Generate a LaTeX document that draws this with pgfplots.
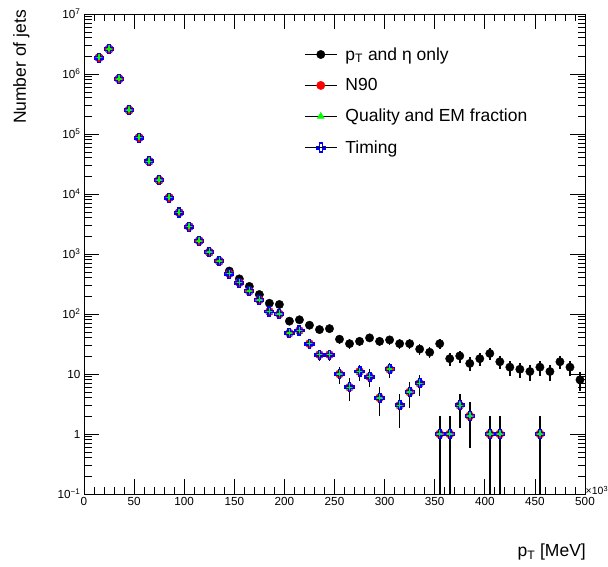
\documentclass[border=0pt]{standalone}
\usepackage{fontspec}
\setmainfont{Liberation Sans}
\usepackage{pgfplots}
\pgfplotsset{compat=1.18}
\usepackage{pgfplotstable}

\newcommand\fs{\fontsize{17.5}{20}\selectfont}
\newcommand\tfs{\fontsize{11.7}{14}\selectfont}

\pgfdeclareplotmark{opencross}{%
  \pgfpathmoveto{\pgfqpoint{-0.3\pgfplotmarksize}{\pgfplotmarksize}}%
  \pgfpathlineto{\pgfqpoint{0.3\pgfplotmarksize}{\pgfplotmarksize}}%
  \pgfpathlineto{\pgfqpoint{0.3\pgfplotmarksize}{0.3\pgfplotmarksize}}%
  \pgfpathlineto{\pgfqpoint{\pgfplotmarksize}{0.3\pgfplotmarksize}}%
  \pgfpathlineto{\pgfqpoint{\pgfplotmarksize}{-0.3\pgfplotmarksize}}%
  \pgfpathlineto{\pgfqpoint{0.3\pgfplotmarksize}{-0.3\pgfplotmarksize}}%
  \pgfpathlineto{\pgfqpoint{0.3\pgfplotmarksize}{-\pgfplotmarksize}}%
  \pgfpathlineto{\pgfqpoint{-0.3\pgfplotmarksize}{-\pgfplotmarksize}}%
  \pgfpathlineto{\pgfqpoint{-0.3\pgfplotmarksize}{-0.3\pgfplotmarksize}}%
  \pgfpathlineto{\pgfqpoint{-\pgfplotmarksize}{-0.3\pgfplotmarksize}}%
  \pgfpathlineto{\pgfqpoint{-\pgfplotmarksize}{0.3\pgfplotmarksize}}%
  \pgfpathlineto{\pgfqpoint{-0.3\pgfplotmarksize}{0.3\pgfplotmarksize}}%
  \pgfpathclose
  \pgfusepathqstroke
}

\pgfplotstableread{
x y e
15 1870000 1367
25 2600000 1612
35 830000 911
45 250000 500
55 87000 295
65 35000 187
75 17000 130
85 8700 93
95 4900 70
105 2860 53
115 1660 41
125 1070 33
135 760 28
145 520 23
155 385 20
165 288 17
175 211 14.5
185 151 12.3
195 144 12
205 76 8.7
215 80 8.9
225 65 8.1
235 55 7.4
245 57 7.5
255 38 6.2
265 32 5.7
275 35 5.9
285 40 6.3
295 35 5.9
305 37 6.1
315 32 5.7
325 32 5.7
335 26 5.1
345 23 4.8
355 32 5.7
365 18 4.2
375 20 4.5
385 15 3.9
395 18 4.2
405 22 4.7
415 16 4
425 13 3.6
435 12 3.5
445 11 3.3
455 13 3.6
465 11 3.3
475 16 4
485 13 3.6
495 8 2.8
}\ptonly

\pgfplotstableread{
x y ep em
15 1870000 1367 1367
25 2600000 1612 1612
35 830000 911 911
45 250000 500 500
55 87000 295 295
65 35000 187 187
75 17000 130 130
85 8700 93 93
95 4900 70 70
105 2860 53 53
115 1660 41 41
125 1070 33 33
135 760 28 28
145 470 22 22
155 333 18 18
165 240 15.5 15.5
175 172 13.1 13.1
185 110 10.5 10.5
195 100 10 10
205 48 6.9 6.9
215 53 7.3 7.3
225 32 5.7 5.7
235 21 4.6 4.6
245 21 4.6 4.6
255 10 3.2 3.2
265 6 2.45 2.45
275 11 3.3 3.3
285 9 3 3
295 4 2 2
305 12 3.5 3.5
315 3 1.73 1.73
325 5 2.24 2.24
335 7 2.65 2.65
355 1 1 0.999
365 1 1 0.999
375 3 1.73 1.73
385 2 1.41 1.41
405 1 1 0.999
415 1 1 0.999
455 1 1 0.999
}\cuts

\begin{document}
\begin{tikzpicture}[x=1pt,y=1pt]
\begin{axis}[
  at={(84pt,73pt)}, anchor=south west,
  scale only axis, width=501pt, height=480pt,
  xmin=0, xmax=500, ymode=log, ymin=0.1, ymax=1e7,
  axis line style={black, line width=0.8pt},
  tick style={black, line width=0.8pt},
  major tick length=15pt, minor tick length=7.5pt,
  tick align=inside, xtick pos=both, ytick pos=both,
  xtick={0,50,...,500},
  xticklabels={0,50,100,150,200,250,300,350,400,450,500},
  minor x tick num=4,
  ytick={0.1,1,10,100,1000,10000,100000,1000000,10000000},
  minor ytick={0.2,0.3,0.4,0.5,0.6,0.7,0.8,0.9,
    2,3,4,5,6,7,8,9,
    20,30,40,50,60,70,80,90,
    200,300,400,500,600,700,800,900,
    2000,3000,4000,5000,6000,7000,8000,9000,
    20000,30000,40000,50000,60000,70000,80000,90000,
    200000,300000,400000,500000,600000,700000,800000,900000,
    2000000,3000000,4000000,5000000,6000000,7000000,8000000,9000000},
  yticklabels={10\textsuperscript{−1},1,10,10\textsuperscript{2},10\textsuperscript{3},10\textsuperscript{4},10\textsuperscript{5},10\textsuperscript{6},10\textsuperscript{7}},
  ticklabel style={font=\tfs},
  error bars/error bar style={black, line width=1.6pt},
  error bars/error mark=none,
  legend style={at={(0.439,0.935)}, anchor=north west, draw=none, fill=none,
    font=\fs, row sep=13pt, column sep=6pt, inner sep=0pt, nodes={inner sep=2pt}},
  legend cell align=left,
  legend image code/.code={\draw[black,line width=1.3pt] (0pt,0pt) -- (32pt,0pt);
    \draw[#1] plot coordinates {(16pt,0pt)};},
]
\addplot[only marks, mark=*, mark size=4.2pt, black,
  error bars/.cd, y dir=both, y explicit]
  table[x=x, y=y, y error=e] {\ptonly};
\addlegendentry{p\textsubscript{T} and η only}
\addplot[only marks, mark=*, mark size=4.2pt, red,
  error bars/.cd, y dir=both, y explicit]
  table[x=x, y=y, y error plus=ep, y error minus=em] {\cuts};
\addlegendentry{N90}
\addplot[only marks, mark=triangle*, mark size=4pt, green,
  error bars/.cd, y dir=both, y explicit]
  table[x=x, y=y, y error plus=ep, y error minus=em] {\cuts};
\addlegendentry{Quality and EM fraction}
\addplot[only marks, mark=opencross, mark size=4.5pt, blue, line width=1.2pt,
  error bars/.cd, y dir=both, y explicit]
  table[x=x, y=y, y error plus=ep, y error minus=em] {\cuts};
\addlegendentry{Timing}
\end{axis}
\node[rotate=90, anchor=north east, inner sep=0pt, font=\fs] at (13,557) {Number of jets};
\node[anchor=base east, inner sep=0pt, font=\fs] at (586,10) {p\textsubscript{T} [MeV]};
\node[anchor=base west, inner sep=0pt, font=\fontsize{10.5}{12}\selectfont] at (585.5,72) {×10\textsuperscript{3}};
\pgfresetboundingbox
\useasboundingbox (0,0) rectangle (608,567);
\end{tikzpicture}
\end{document}
